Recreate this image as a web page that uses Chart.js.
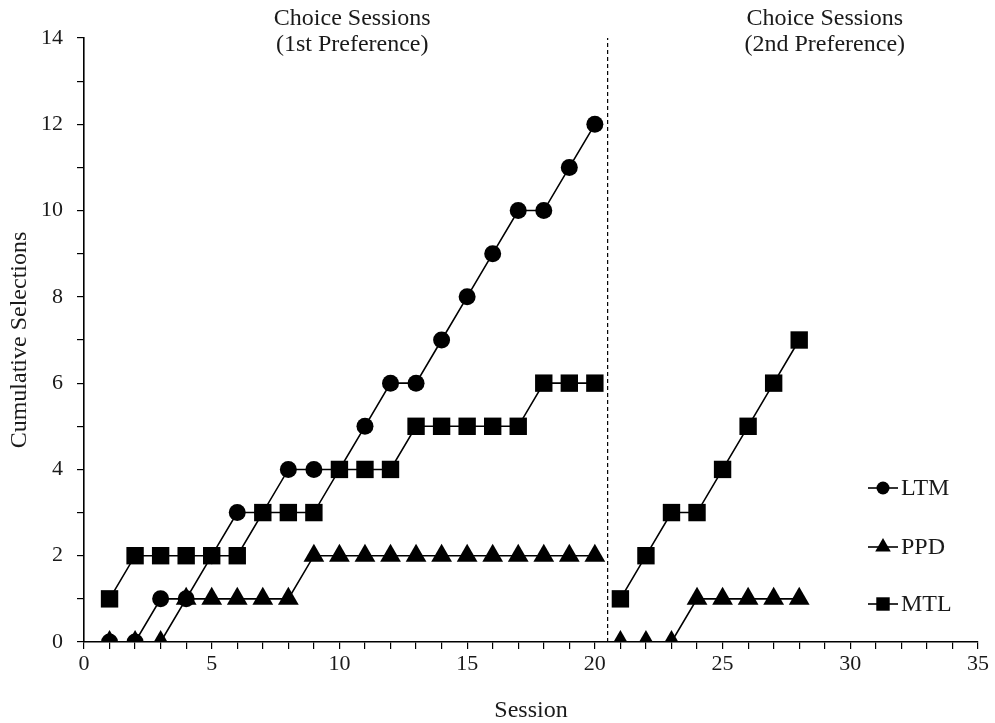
<!DOCTYPE html>
<html>
<head>
<meta charset="utf-8">
<script src="https://cdn.jsdelivr.net/npm/chart.js@4/dist/chart.umd.min.js"></script>
<style>
  html, body { margin: 0; padding: 0; background: #fff; }
  #wrap { width: 995px; height: 723px; }
</style>
</head>
<body>
<div id="wrap"><canvas id="c" width="995" height="723"></canvas></div>
<script>
// ---- data ----
const sessions1 = [1,2,3,4,5,6,7,8,9,10,11,12,13,14,15,16,17,18,19,20];
const sessions2 = [21,22,23,24,25,26,27,28];
const ltm1 = [0,0,1,1,2,3,3,4,4,4,5,6,6,7,8,9,10,10,11,12];
const ppd1 = [0,0,0,1,1,1,1,1,2,2,2,2,2,2,2,2,2,2,2,2];
const mtl1 = [1,2,2,2,2,2,3,3,3,4,4,4,5,5,5,5,5,6,6,6];
const ppd2 = [0,0,0,1,1,1,1,1];
const mtl2 = [1,2,3,3,4,5,6,7];
const seriesNames = ['LTM', 'PPD', 'MTL'];
const phaseBoundary = 20.5;
const phaseLabels = [
  { x: 10.5, lines: ['Choice Sessions', '(1st Preference)'] },
  { x: 29, lines: ['Choice Sessions', '(2nd Preference)'] }
];

const pts = (xs, ys) => xs.map((x, i) => ({ x: x, y: ys[i] }));
const FONT = '"Liberation Serif", "Times New Roman", serif';
const INK = '#1a1a1a';

const style = {
  LTM: { pointStyle: 'circle', pointRadius: 8.5, legendRadius: 6.5 },
  PPD: { pointStyle: 'triangle', pointRadius: 12, legendRadius: 9 },
  MTL: { pointStyle: 'rect', pointRadius: 12.3, legendRadius: 9.5 }
};

function ds(label, data, order, legendName) {
  const s = style[legendName];
  return {
    label: label, data: data, order: order,
    borderColor: '#000', backgroundColor: '#000', borderWidth: 1.6,
    pointStyle: s.pointStyle, pointRadius: s.pointRadius, pointHoverRadius: s.pointRadius,
    pointBackgroundColor: '#000', pointBorderColor: '#000', pointBorderWidth: 0,
    showLine: true, tension: 0, fill: false, spanGaps: false
  };
}

const datasets = [
  ds('MTL', pts(sessions1, mtl1), 0, 'MTL'),
  ds('MTL-2', pts(sessions2, mtl2), 0, 'MTL'),
  ds('LTM', pts(sessions1, ltm1), 1, 'LTM'),
  ds('PPD', pts(sessions1, ppd1), 2, 'PPD'),
  ds('PPD-2', pts(sessions2, ppd2), 2, 'PPD'),
  {
    label: 'boundary', data: [{ x: phaseBoundary, y: 0 }, { x: phaseBoundary, y: 14 }], order: 3,
    borderColor: '#000', borderWidth: 1.2, borderDash: [4, 3], pointRadius: 0, showLine: true, fill: false
  }
];

const overlay = {
  id: 'overlay',
  afterDraw(chart) {
    const ctx = chart.ctx;
    const xs = chart.scales.x;
    ctx.save();
    ctx.fillStyle = INK;
    ctx.textAlign = 'center';
    ctx.textBaseline = 'middle';
    ctx.font = '24px ' + FONT;
    phaseLabels.forEach(p => {
      const px = xs.getPixelForValue(p.x);
      p.lines.forEach((t, i) => ctx.fillText(t, px, 19 + i * 26));
    });
    // legend
    const lx = 868, lw = 30;
    const rows = [488, 547, 604];
    seriesNames.forEach((name, i) => {
      const y = rows[i];
      ctx.strokeStyle = '#000';
      ctx.lineWidth = 1.6;
      ctx.beginPath(); ctx.moveTo(lx, y); ctx.lineTo(lx + lw, y); ctx.stroke();
      const st = style[name];
      ctx.fillStyle = '#000';
      Chart.helpers.drawPoint(ctx, { pointStyle: st.pointStyle, rotation: 0, borderWidth: 0, radius: st.legendRadius }, lx + lw / 2, y);
      ctx.fillStyle = INK;
      ctx.textAlign = 'left';
      ctx.font = '24px ' + FONT;
      ctx.fillText(name, lx + lw + 3, y + 1);
    });
    ctx.restore();
  }
};

new Chart(document.getElementById('c'), {
  type: 'scatter',
  data: { datasets: datasets },
  options: {
    responsive: false,
    animation: false,
    devicePixelRatio: 1,
    layout: { padding: { top: 38, right: 17, left: 0, bottom: 0 } },
    plugins: { legend: { display: false }, tooltip: { enabled: false } },
    scales: {
      x: {
        type: 'linear', min: 0, max: 35,
        afterFit(s) { s.height = 81; },
        border: { display: true, color: '#000', width: 1.6 },
        grid: { display: true, drawOnChartArea: false, drawTicks: true, tickLength: 7, color: '#000', lineWidth: 1.2 },
        ticks: {
          stepSize: 1, autoSkip: false, maxRotation: 0, color: INK, padding: 2,
          font: { family: FONT, size: 22 },
          callback: v => (v % 5 === 0 ? String(v) : '')
        },
        title: { display: true, text: 'Session', color: INK, font: { family: FONT, size: 24, lineHeight: 1.0 }, padding: { top: 9, bottom: 0 } }
      },
      y: {
        type: 'linear', min: 0, max: 14,
        afterFit(s) { s.width = 84; },
        border: { display: true, color: '#000', width: 1.6 },
        grid: { display: true, drawOnChartArea: false, drawTicks: true, tickLength: 7, color: '#000', lineWidth: 1.2 },
        ticks: {
          stepSize: 1, autoSkip: false, color: INK, padding: 14,
          font: { family: FONT, size: 22 },
          callback: v => (v % 2 === 0 ? String(v) : '')
        },
        title: { display: true, text: 'Cumulative Selections', color: INK, font: { family: FONT, size: 24 }, padding: { bottom: 0, top: 5 } }
      }
    }
  },
  plugins: [overlay]
});
</script>
</body>
</html>
